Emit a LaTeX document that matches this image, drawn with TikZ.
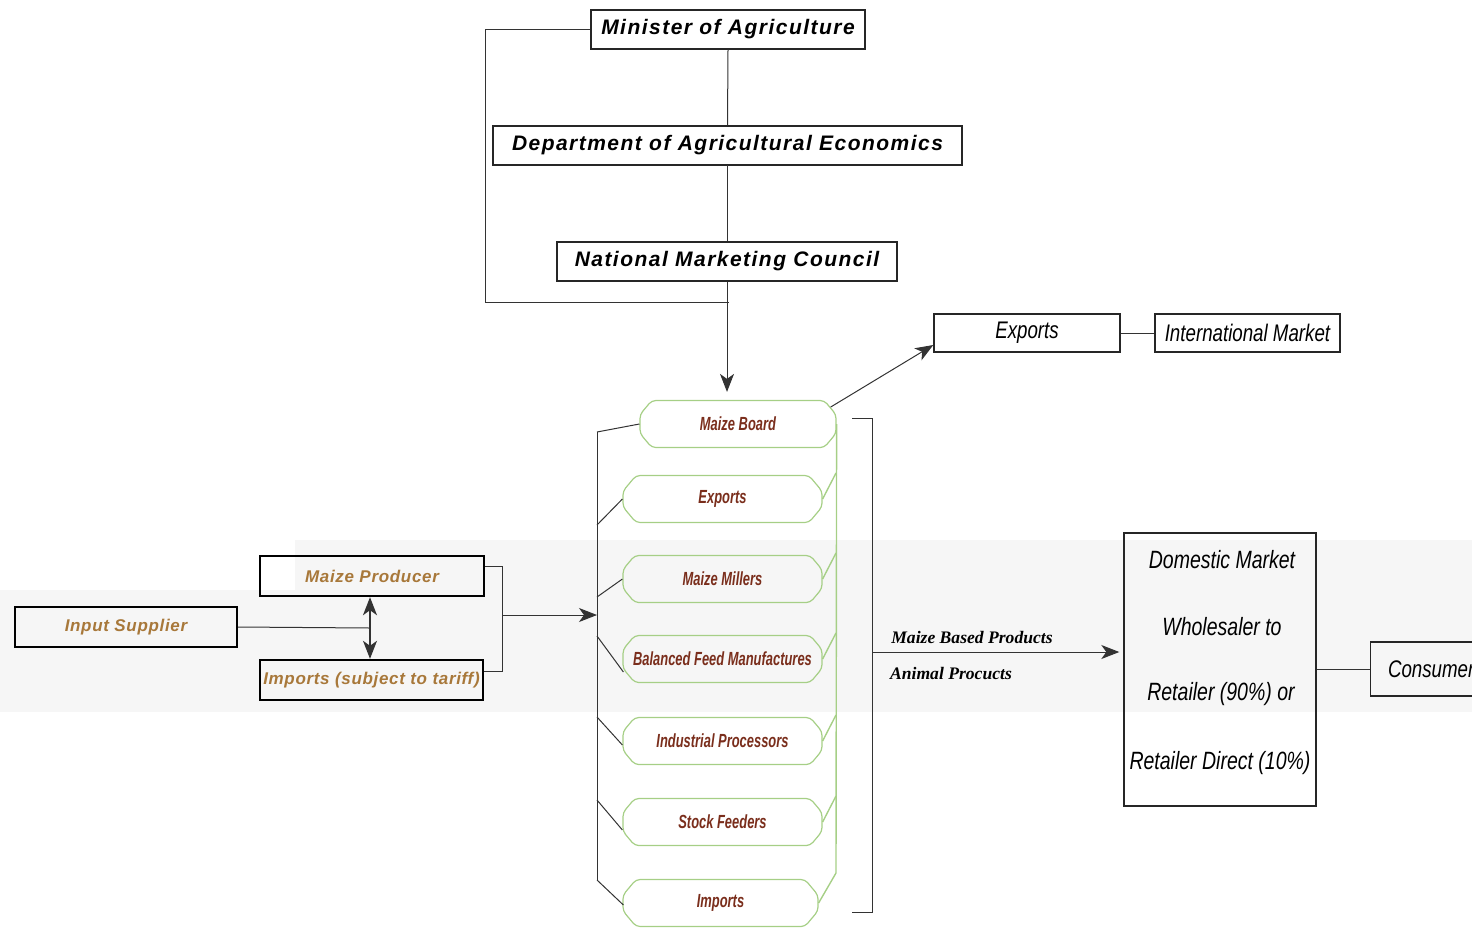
\documentclass[tikz,border=0pt]{standalone}
\usepackage{fontspec}
\setmainfont{Liberation Sans}
\newfontfamily\widefont[LetterSpace=7]{Liberation Sans}
\newfontfamily\widebfont[LetterSpace=4]{Liberation Sans}
\newfontfamily\narrowfont[FakeStretch=0.78]{Liberation Sans}
\newfontfamily\condfont[FakeStretch=0.68]{Liberation Sans}
\newfontfamily\serifl{Liberation Serif}
\usetikzlibrary{shapes.misc,arrows.meta,calc}
\definecolor{orangetxt}{HTML}{A8783A}
\definecolor{browntxt}{HTML}{7A2E1C}
\definecolor{greenline}{HTML}{A6CF86}
\definecolor{bandgray}{HTML}{F6F6F6}
\tikzset{
  govbox/.style={draw=black!85,line width=0.7pt,inner sep=0pt,
    font=\widefont\bfseries\itshape\fontsize{10.5}{12}\selectfont},
  mktbox/.style={draw=black!85,line width=0.7pt,inner sep=0pt,
    font=\narrowfont\itshape\fontsize{12}{14}\selectfont},
  srcbox/.style={draw=black,line width=1.2pt,inner sep=0pt,text=orangetxt,
    font=\widebfont\bfseries\itshape\fontsize{8.5}{10}\selectfont,
    minimum height=20pt},
  item/.style={chamfered rectangle,chamfered rectangle xsep=7pt,
    chamfered rectangle angle=40,draw=greenline,line width=0.6pt,
    rounded corners=2pt,inner sep=0pt,minimum height=23.5pt,
    text=browntxt,font=\condfont\bfseries\itshape\fontsize{9.5}{11}\selectfont},
  dmtext/.style={font=\narrowfont\itshape\fontsize{12.5}{15}\selectfont,inner sep=0pt},
  conn/.style={draw=black!80,line width=0.5pt},
  gconn/.style={draw=greenline,line width=0.7pt},
  arr/.style={conn,-{Stealth[length=9pt,width=7pt,inset=2.5pt]}},
  serlab/.style={font=\serifl\bfseries\itshape\fontsize{8.8}{10}\selectfont,inner sep=0pt}
}
\begin{document}
\begin{tikzpicture}[x=0.5pt,y=-0.5pt]
\useasboundingbox (0,0) rectangle (1472,927);
% faint scan band
\fill[bandgray] (295,540) rectangle (1472,712);
\fill[bandgray] (0,590) rectangle (295,712);

% government nodes
\node[govbox,minimum width=137pt,minimum height=19.5pt] (min) at (728,29.5) {Minister of Agriculture};
\node[govbox,minimum width=234.5pt,minimum height=19.5pt] (dep) at (727.5,145.5) {Department of Agricultural Economics};
\node[govbox,minimum width=170pt,minimum height=19.5pt] (nmc) at (727,261.5) {National Marketing Council};

% exports / international
\node[mktbox,minimum width=93pt,minimum height=19pt] (exp) at (1027,333) {Exports};
\node[mktbox,minimum width=92.5pt,minimum height=19pt] (intl) at (1247.5,333) {International Market};

% items
\node[item,minimum width=98pt] (mb) at (738,424) {Maize Board};
\node[item,minimum width=99.5pt] (ie) at (722.5,499) {Exports};
\node[item,minimum width=99.5pt] (mm) at (722.5,579) {Maize Millers};
\node[item,minimum width=99.5pt] (bf) at (722.5,659) {Balanced Feed Manufactures};
\node[item,minimum width=99.5pt] (ip) at (722.5,741) {Industrial Processors};
\node[item,minimum width=99.5pt] (sf) at (722.5,822) {Stock Feeders};
\node[item,minimum width=97.5pt] (im) at (720.5,903) {Imports};

% sources
\node[srcbox,minimum width=111pt] (ins) at (126,627) {Input Supplier};
\node[srcbox,minimum width=112pt] (mp) at (372,576) {Maize Producer};
\node[srcbox,minimum width=111.5pt] (imt) at (371.5,680) {Imports (subject to tariff)};

% domestic market and consumer
\node[mktbox,minimum width=96pt,minimum height=136.5pt] (dm) at (1220,669.5) {};
\node[dmtext] (dm1) at (1222,560) {Domestic Market};
\node[dmtext] (dm2) at (1222,627) {Wholesaler to};
\node[dmtext] (dm3) at (1221,694) {Retailer (90\%) or};
\node[dmtext] (dm4) at (1220,763) {Retailer Direct (10\%)};
\node[mktbox,minimum width=55pt,minimum height=27pt,font=\narrowfont\itshape\fontsize{12}{14}\selectfont,anchor=west] (con) at (1370,669) {\hspace{5.5pt}Consumer\hspace{6pt}};

% labels
\node[serlab] (lab1) at (972,637) {Maize Based Products};
\node[serlab] (lab2) at (951,673) {Animal Procucts};

% government connectors
\coordinate (j) at (729,302);
\coordinate (lc) at (485,302);
\draw[conn] (min.south) -- (dep.north);
\draw[conn] (dep.south) -- (nmc.south |- dep.south) -- (nmc.north);
\draw[arr] (nmc.south) -- ($(nmc.south |- mb.north)+(0,-8)$);
\draw[conn] (min.west) -| (lc) -- (j);

% exports
\draw[arr] (mb.north east) -- ($(exp.west)+(0,12)$);
\draw[conn] (exp.east) -- (intl.west);

% green right connectors
\coordinate (gb) at (836,873);
\draw[gconn] (mb.east) -- (gb);
\draw[gconn] (ie.east) -- (836,473);
\draw[gconn] (mm.east) -- (836,553);
\draw[gconn] (bf.east) -- (836,633);
\draw[gconn] (ip.east) -- (836,715);
\draw[gconn] (sf.east) -- (836,796);
\draw[gconn] (im.east) -- (gb);

% left bracket of items
\coordinate (lt) at (597,432);
\coordinate (lb) at (597,880);
\draw[conn] (lt) -- (lb);
\draw[conn] (lt) -- (mb.west);
\draw[conn] (597,525) -- (ie.west);
\draw[conn] (597,597) -- (mm.west);
\draw[conn] (597,636) -- ($(bf.west)+(1,13)$);
\draw[conn] (597,717) -- ($(ip.west)+(0,4)$);
\draw[conn] (597,800) -- ($(sf.west)+(0,8)$);
\draw[conn] (lb) -- ($(im.west)+(1,2)$);

% sources connectors
\coordinate (sb1) at (502,566);
\coordinate (sb2) at (502,671);
\coordinate (sbm) at (502,615);
\coordinate (ia) at (597,615);
\draw[conn] (mp.east |- sb1) -- (sb1) -- (sb2) -- (imt.east |- sb2);
\draw[arr] (sbm) -- (ia);
\draw[conn] (ins.east) -- (370,628);
\draw[conn,line width=0.8pt,{Stealth[length=9pt,width=7pt,inset=2.5pt]}-{Stealth[length=9pt,width=7pt,inset=2.5pt]}] (mp.south -| 370,0) -- (imt.north -| 370,0);

% right bracket
\coordinate (rb1) at (872,418);
\coordinate (rb2) at (872,912);
\draw[conn] (852,418) -- (rb1) -- (rb2) -- (852,912);
\draw[arr] (872,652) -- ($(dm.west |- 0,652)+(-4,0)$);
\draw[conn] (dm.east |- con.west) -- (con.west);
\end{tikzpicture}
\end{document}
